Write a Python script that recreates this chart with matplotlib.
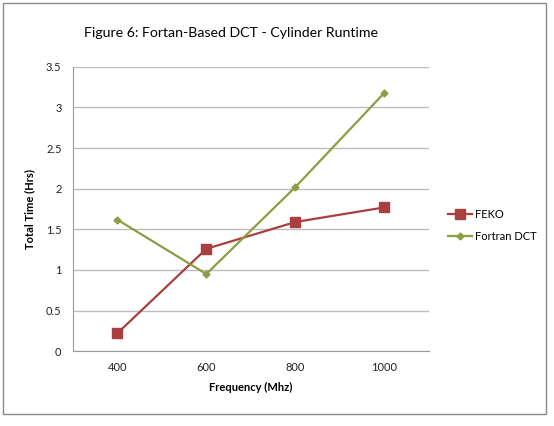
import numpy as np
import matplotlib.pyplot as plt

plt.rcParams['font.family'] = ['Lato', 'DejaVu Sans']

# Data
freqs = ['400', '600', '800', '1000']
feko = [0.22, 1.26, 1.59, 1.77]
fortran_dct = [1.62, 0.95, 2.02, 3.18]

fig = plt.figure(figsize=(5.54, 4.26), dpi=100)
ax = fig.add_axes([0.1312, 0.1754, 0.6432, 0.668])

x = np.arange(len(freqs))
ax.plot(x, feko, color='#a9403f', lw=1.6, marker='s', ms=7, label='FEKO')
ax.plot(x, fortran_dct, color='#8c9e42', lw=1.6, marker='D', ms=3.5, label='Fortran DCT')

ax.set_xlim(-0.5, len(freqs) - 0.5)
ax.set_ylim(0, 3.5)
ax.set_xticks(x)
ax.set_xticklabels(freqs)
ax.set_yticks(np.arange(0, 3.51, 0.5))
ax.set_yticklabels(['0', '0.5', '1', '1.5', '2', '2.5', '3', '3.5'])
ax.tick_params(length=0, labelsize=8, colors='#222222', pad=8)
ax.grid(axis='y', color='#bdbdbd', lw=1)
ax.set_axisbelow(True)
for side in ['top', 'right']:
    ax.spines[side].set_visible(False)
for side in ['left', 'bottom']:
    ax.spines[side].set_color('#9a9a9a')

ax.set_xlabel('Frequency (Mhz)', fontsize=8, fontweight='bold', labelpad=6)
ax.set_ylabel('Total Time (Hrs)', fontsize=8, fontweight='bold', labelpad=8)

fig.text(0.417, 0.922, 'Figure 6: Fortan-Based DCT - Cylinder Runtime',
         ha='center', va='center', fontsize=10.2)

ax.legend(loc='center left', bbox_to_anchor=(0.79, 0.47), bbox_transform=fig.transFigure,
          frameon=False, fontsize=8, handlelength=2.2, handletextpad=0.3,
          labelspacing=1.0)

# outer chart border
fig.patches.append(plt.Rectangle((0.006, 0.028), 0.98, 0.966, transform=fig.transFigure,
                                 fill=False, edgecolor='#8a8a8a', lw=1))

plt.savefig('out.png', dpi=100)
